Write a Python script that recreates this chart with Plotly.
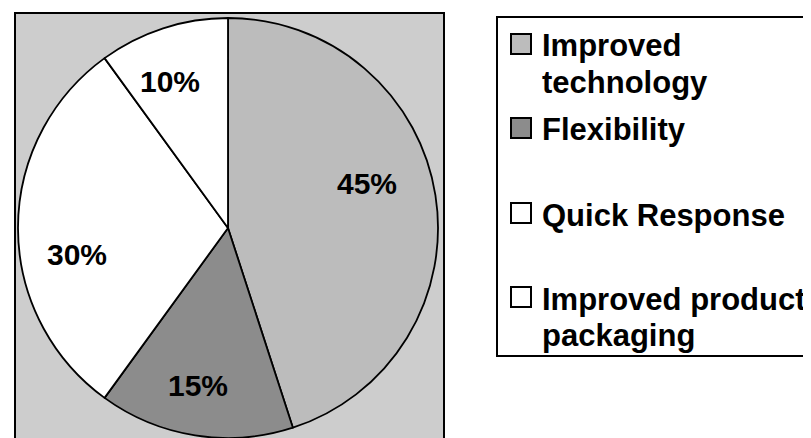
import math
import plotly.graph_objects as go

categories = ["Improved technology", "Flexibility", "Quick Response", "Improved product packaging"]
values = [45, 15, 30, 10]
legend_lines = [["Improved", "technology"], ["Flexibility"], ["Quick Response"], ["Improved product", "packaging"]]
slice_colors = ["#bcbcbc", "#8c8c8c", "#ffffff", "#ffffff"]

# page offset (browser body margin) compensation
OFF = 8
W, H = 811 - OFF, 438 - OFF
FONT = "Liberation Sans"

def px(x):
    return (x - OFF) / W

def py(y):
    return 1 - (y - OFF) / H

# pie geometry in screen pixels
CX, CY, R = 228, 228, 210

fig = go.Figure()
fig.add_trace(go.Pie(
    labels=categories,
    values=values,
    sort=False,
    direction="clockwise",
    rotation=0,
    marker=dict(colors=slice_colors, line=dict(color="black", width=1.8)),
    textinfo="none",
    domain=dict(x=[px(CX - R), px(CX + R)], y=[py(CY + R), py(CY - R)]),
    showlegend=False,
    hoverinfo="label+percent",
))

# percentage labels positioned from the data (slice mid-angles)
label_r = 155
nudges = [(-14, -22), (-6, 2), (4, 24), (-10, -1)]
total = sum(values)
cum = 0
for i, v in enumerate(values):
    mid = (cum + v / 2) / total * 2 * math.pi
    cum += v
    lx = CX + label_r * math.sin(mid) + nudges[i][0]
    ly = CY - label_r * math.cos(mid) + nudges[i][1] + 2
    fig.add_annotation(x=px(lx), y=py(ly), xref="paper", yref="paper",
                       text=f"{round(v / total * 100)}%", showarrow=False,
                       xanchor="center", yanchor="middle",
                       font=dict(family=FONT, size=30, color="black", weight="bold"))

# plot area box
fig.add_shape(type="rect", xref="paper", yref="paper",
              x0=px(15), x1=px(444), y0=-0.05, y1=py(13),
              fillcolor="#cdcdcd", line=dict(color="black", width=2), layer="below")
# legend box
fig.add_shape(type="rect", xref="paper", yref="paper",
              x0=px(497), x1=px(830), y0=py(356), y1=py(17),
              fillcolor="white", line=dict(color="black", width=2), layer="below")

line_y = [[44, 80], [128], [213], [297, 333]]
for i, lines in enumerate(legend_lines):
    yc = line_y[i][0]
    fig.add_shape(type="rect", xref="paper", yref="paper",
                  x0=px(511), x1=px(531), y0=py(yc + 10), y1=py(yc - 10),
                  fillcolor=slice_colors[i], line=dict(color="black", width=2))
    for j, txt in enumerate(lines):
        fig.add_annotation(x=px(540), y=py(line_y[i][j] + 2), xref="paper", yref="paper",
                           text=txt, showarrow=False, xanchor="left", yanchor="middle",
                           font=dict(family=FONT, size=31, color="black", weight="bold"))

fig.update_layout(width=W, height=H, margin=dict(l=0, r=0, t=0, b=0),
                  paper_bgcolor="white", plot_bgcolor="white")
fig.write_html("out.html")
